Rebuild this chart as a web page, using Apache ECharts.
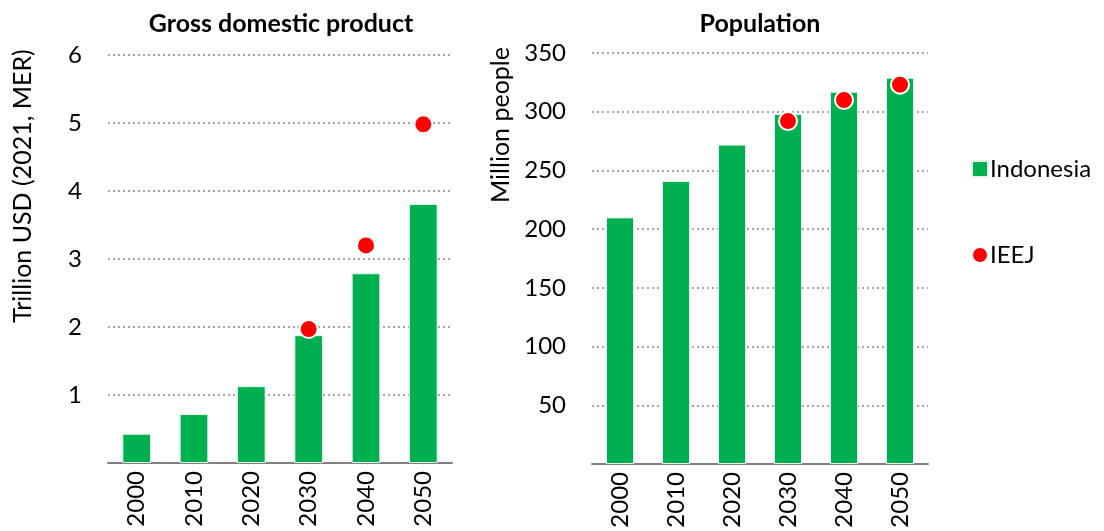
<!DOCTYPE html>
<html>
<head>
<meta charset="utf-8">
<script src="https://cdn.jsdelivr.net/npm/echarts@6/dist/echarts.min.js"></script>
<style>
  html, body { margin: 0; padding: 0; background: #fff; }
  #main { width: 1104px; height: 531px; }
</style>
</head>
<body>
<div id="main"></div>
<script>
// data
const years = ['2000', '2010', '2020', '2030', '2040', '2050'];
const gdpIndonesia = [0.43, 0.72, 1.13, 1.88, 2.79, 3.81];
const gdpIEEJ = [null, null, null, 1.97, 3.2, 4.98];
const popIndonesia = [210, 241, 272, 298, 317, 329];
const popIEEJ = [null, null, null, 292, 310, 323];

const FONT = 'Lato, "Open Sans", sans-serif';
const GREEN = '#00b050';
const RED = '#ff0000';

const chart = echarts.init(document.getElementById('main'));

function xAxisFor(idx) {
  return {
    type: 'category',
    gridIndex: idx,
    data: years,
    axisLine: { lineStyle: { color: '#808080', width: 2 } },
    axisTick: { show: false },
    axisLabel: { rotate: 90, fontSize: 24, color: '#000', fontFamily: FONT, margin: 8 }
  };
}
function yAxisFor(idx, max, interval) {
  return {
    type: 'value',
    gridIndex: idx,
    min: 0,
    max: max,
    interval: interval,
    axisLine: { show: false },
    axisTick: { show: false },
    axisLabel: {
      fontSize: 24, color: '#000', fontFamily: FONT, margin: 26,
      formatter: function (v) { return v === 0 ? '' : v; }
    },
    splitLine: { lineStyle: { color: '#a6a6a6', width: 2, type: [2, 3] } }
  };
}
function dotSeries(idx, data) {
  return {
    name: 'IEEJ',
    type: 'scatter',
    xAxisIndex: idx,
    yAxisIndex: idx,
    data: data,
    symbol: 'circle',
    symbolSize: 18,
    itemStyle: { color: RED, opacity: 1, borderColor: '#fff', borderWidth: 2 },
    z: 5
  };
}
function axisName(text, x, y) {
  return {
    type: 'text',
    x: x,
    y: y,
    rotation: Math.PI / 2,
    style: {
      text: text, fontSize: 25, fill: '#000', fontFamily: FONT,
      align: 'center', verticalAlign: 'middle'
    }
  };
}

const option = {
  animation: false,
  backgroundColor: '#fff',
  textStyle: { fontFamily: FONT },
  title: [
    { text: 'Gross domestic product', left: 276, top: 6, textAlign: 'center',
      textStyle: { fontSize: 25, fontWeight: 'bold', color: '#000', fontFamily: FONT } },
    { text: 'Population', left: 755, top: 6, textAlign: 'center',
      textStyle: { fontSize: 25, fontWeight: 'bold', color: '#000', fontFamily: FONT } }
  ],
  legend: {
    orient: 'vertical',
    left: 966,
    top: 152,
    itemGap: 62,
    itemWidth: 16,
    itemHeight: 16,
    textStyle: { fontSize: 24, color: '#000', fontFamily: FONT, padding: [0, 0, 0, -3] },
    data: [
      { name: 'Indonesia', icon: 'rect' },
      { name: 'IEEJ', icon: 'circle' }
    ]
  },
  graphic: [
    axisName('Trillion USD (2021, MER)', 23, 186),
    axisName('Million people', 501, 125)
  ],
  grid: [
    { left: 108, right: 652, top: 55, bottom: 68 },
    { left: 592, right: 176, top: 53, bottom: 67 }
  ],
  xAxis: [xAxisFor(0), xAxisFor(1)],
  yAxis: [yAxisFor(0, 6, 1), yAxisFor(1, 350, 50)],
  series: [
    { name: 'Indonesia', type: 'bar', xAxisIndex: 0, yAxisIndex: 0, data: gdpIndonesia,
      barWidth: '50%', itemStyle: { color: GREEN, borderColor: '#e6f5ea', borderWidth: 1 } },
    dotSeries(0, gdpIEEJ),
    { name: 'Indonesia', type: 'bar', xAxisIndex: 1, yAxisIndex: 1, data: popIndonesia,
      barWidth: '50%', itemStyle: { color: GREEN, borderColor: '#e6f5ea', borderWidth: 1 } },
    dotSeries(1, popIEEJ)
  ]
};

chart.setOption(option);
</script>
</body>
</html>
